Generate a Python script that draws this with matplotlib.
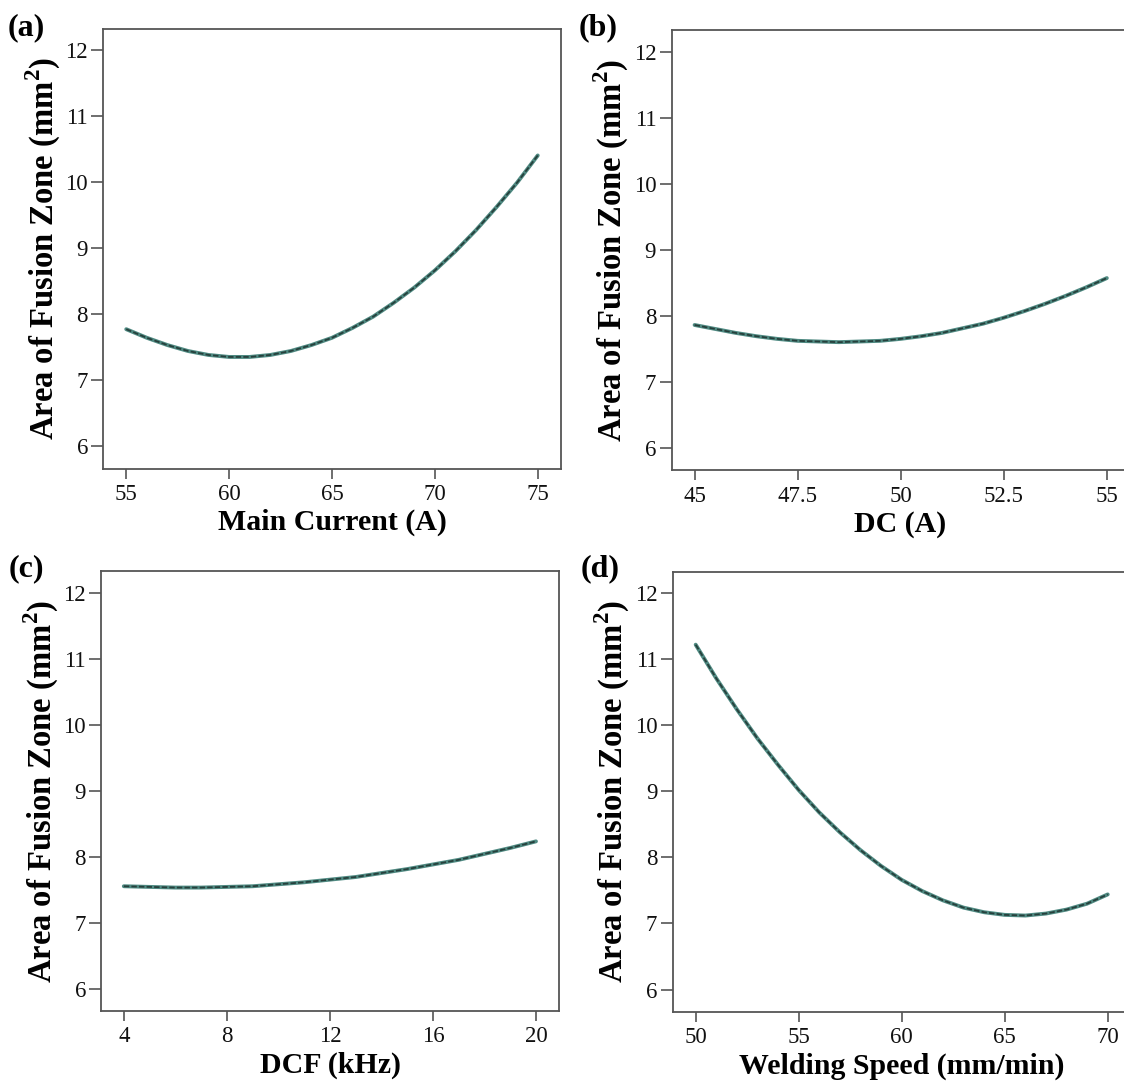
import matplotlib
matplotlib.use("Agg")
import matplotlib.pyplot as plt

plt.rcParams['font.family'] = ['Liberation Serif', 'DejaVu Serif']
plt.rcParams['mathtext.fontset'] = 'custom'
plt.rcParams['mathtext.rm'] = 'Liberation Serif'
plt.rcParams['mathtext.bf'] = 'Liberation Serif:bold'

# ---- data ----
main_current = [55, 56, 57, 58, 59, 60, 61, 62, 63, 64, 65, 66, 67, 68, 69, 70, 71, 72, 73, 74, 75]
area_main = [7.77, 7.64, 7.53, 7.44, 7.38, 7.35, 7.35, 7.38, 7.44, 7.53, 7.64, 7.79, 7.96, 8.17,
             8.40, 8.66, 8.95, 9.27, 9.62, 9.99, 10.40]

dc = [45, 45.5, 46, 46.5, 47, 47.5, 48, 48.5, 49, 49.5, 50, 50.5, 51, 51.5, 52, 52.5, 53, 53.5, 54, 54.5, 55]
area_dc = [7.86, 7.80, 7.74, 7.69, 7.65, 7.62, 7.61, 7.60, 7.61, 7.62, 7.65, 7.69, 7.74, 7.81,
           7.88, 7.97, 8.07, 8.18, 8.30, 8.43, 8.57]

dcf = [4, 5, 6, 7, 8, 9, 10, 11, 12, 13, 14, 15, 16, 17, 18, 19, 20]
area_dcf = [7.55, 7.54, 7.53, 7.53, 7.54, 7.55, 7.58, 7.61, 7.65, 7.69, 7.75, 7.81, 7.88, 7.95,
            8.04, 8.13, 8.23]

speed = [50, 51, 52, 53, 54, 55, 56, 57, 58, 59, 60, 61, 62, 63, 64, 65, 66, 67, 68, 69, 70]
area_speed = [11.22, 10.71, 10.24, 9.80, 9.40, 9.02, 8.68, 8.38, 8.11, 7.87, 7.66, 7.49, 7.35,
              7.24, 7.17, 7.13, 7.12, 7.15, 7.21, 7.30, 7.44]

y_ticks = [6, 7, 8, 9, 10, 11, 12]
xticks_a = [55, 60, 65, 70, 75]
xticks_b = [45, 47.5, 50, 52.5, 55]
xtlabels_b = ['45', '47.5', '50', '52.5', '55']
xticks_c = [4, 8, 12, 16, 20]
xticks_d = [50, 55, 60, 65, 70]

ylabel = r'Area of Fusion Zone (mm$^{\mathbf{2}}$)'

W, H = 1124, 1082
panels = [
    dict(x=main_current, y=area_main, xt=xticks_a, xtl=None, xl='Main Current (A)', tag='(a)',
         pos=[103.2/W, 1-468.6/H, 458/W, 440/H], xlim=(53.88, 76.14), tagxy=(8, 13)),
    dict(x=dc, y=area_dc, xt=xticks_b, xtl=xtlabels_b, xl='DC (A)', tag='(b)',
         pos=[671.5/W, 1-470.3/H, 458/W, 439.9/H], xlim=(44.44, 55.55), tagxy=(579, 13)),
    dict(x=dcf, y=area_dcf, xt=xticks_c, xtl=None, xl='DCF (kHz)', tag='(c)',
         pos=[101.4/W, 1-1011/H, 458/W, 439.6/H], xlim=(3.13, 20.91), tagxy=(9, 554)),
    dict(x=speed, y=area_speed, xt=xticks_d, xtl=None, xl='Welding Speed (mm/min)', tag='(d)',
         pos=[672.6/W, 1-1012/H, 458/W, 440/H], xlim=(48.88, 71.11), tagxy=(581, 554)),
]

fig = plt.figure(figsize=(W/100, H/100), dpi=100)
spine_col = '#555555'

for p in panels:
    ax = fig.add_axes(p['pos'])
    ax.plot(p['x'], p['y'], color='#4f8a82', lw=2.8, solid_capstyle='round')
    ax.plot(p['x'], p['y'], color='#26403c', lw=1.3, dashes=(3, 1.2))
    ax.set_xlim(*p['xlim'])
    ax.set_ylim(5.66, 12.32)
    ax.set_yticks(y_ticks)
    ax.set_xticks(p['xt'])
    if p['xtl'] is not None:
        ax.set_xticklabels(p['xtl'])
    for s in ax.spines.values():
        s.set_color(spine_col)
        s.set_linewidth(1.3)
    ax.tick_params(axis='both', direction='out', width=1.2, color=spine_col,
                   labelsize=16.5, labelcolor='#111111')
    ax.tick_params(axis='y', length=8.5, pad=2.5)
    ax.tick_params(axis='x', length=7, pad=4)
    ax.set_xlabel(p['xl'], fontsize=21.5, fontweight='bold', labelpad=3)
    ax.set_ylabel(ylabel, fontsize=23.5, fontweight='bold', labelpad=2)
    fig.text(p['tagxy'][0]/W, 1 - p['tagxy'][1]/H, p['tag'], fontsize=23,
             fontweight='bold', ha='left', va='top')

fig.savefig('out.png', dpi=100, facecolor='white')
